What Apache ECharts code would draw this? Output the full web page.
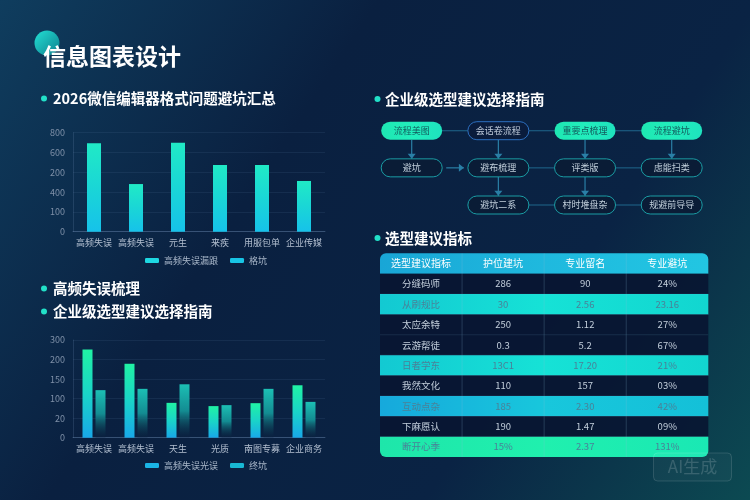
<!DOCTYPE html>
<html><head><meta charset="utf-8">
<script src="https://cdn.jsdelivr.net/npm/echarts@6/dist/echarts.min.js"></script>
<style>html,body{margin:0;padding:0;background:#0a1c3c}#c{width:750px;height:500px}</style>
</head><body><div id="c"></div>
<script>
const FONT = '"Noto Sans CJK SC","Noto Sans",sans-serif';

// ---- chart 1 data ----
const bar1Categories = ['高频失误', '高频失误', '元生', '来疾', '用服包单', '企业传媒'];
const bar1Values = [714, 385, 719, 539, 539, 410];
const bar1Values2 = [];
const bar1YLabels = ['0', '100', '400', '200', '600', '800'];
const bar1Names = ['高频失误漏跟', '格坑'];

// ---- chart 2 data ----
const bar2Categories = ['高频失误', '高频失误', '天生', '光质', '南图专募', '企业商务'];
const bar2ValuesA = [271, 227, 107, 97, 106, 161];
const bar2ValuesB = [146, 150, 164, 100, 150, 110];
const bar2YLabels = ['0', '20', '100', '150', '200', '300'];
const bar2Names = ['高频失误光误', '终坑'];

// ---- flow data ----
const flowNames = ['流程美图', '会话卷流程', '重要点梳理', '流程避坑', '避坑', '避布梳理', '评类版', '虑能扫类', '避坑二系', '村时堆盘杂', '规避前导导'];
const flowCols = [0, 1, 2, 3, 0, 1, 2, 3, 1, 2, 3];
const flowRows = [0, 0, 0, 0, 1, 1, 1, 1, 2, 2, 2];
const flowTypes = ['fill', 'blue', 'fill', 'fill', 'line', 'line', 'line', 'line', 'line', 'line', 'line'];
const flowEdgeFrom = [0, 1, 2, 0, 1, 2, 3, 4, 5, 6, 5, 6, 8, 9];
const flowEdgeTo = [1, 2, 3, 4, 5, 6, 7, 5, 6, 7, 8, 9, 9, 10];
const flowEdgeArrow = [0, 0, 0, 1, 1, 1, 1, 1, 0, 0, 1, 1, 0, 0];

// ---- table data ----
const tableHeader = ['选型建议指标', '护位建坑', '专业留名', '专业避坑'];
const tableRowNames = ['分缝码师', '从刷规比', '太应余特', '云游帮徒', '日者学东', '我然文化', '互动点杂', '下麻愿认', '断开心季'];
const tableCol1 = ['286', '30', '250', '0.3', '13C1', '110', '185', '190', '15%'];
const tableCol2 = ['90', '2.56', '1.12', '5.2', '17.20', '157', '2.30', '1.47', '2.37'];
const tableCol3 = ['24%', '23.16', '27%', '67%', '21%', '03%', '42%', '09%', '131%'];
const tableRowKinds = ['dark', 'cyan', 'dark', 'dark', 'cyan', 'dark', 'blue', 'dark', 'green'];

const tableCells = [tableHeader].concat(tableRowNames.map((n, i) => [n, tableCol1[i], tableCol2[i], tableCol3[i]]));

const chart = echarts.init(document.getElementById('c'), null, { renderer: 'canvas' });

function lg(stops, x2, y2) {
  return new echarts.graphic.LinearGradient(0, 0, x2, y2, stops.map((c, i) => ({ offset: i / (stops.length - 1), color: c })));
}

const rowFill = {
  header: lg(['#19a6d6', '#1fb9de', '#22c6e2'], 1, 0),
  dark: 'rgba(9,22,50,0.92)',
  cyan: lg(['#13c9d2', '#16e2d6', '#12d6d0'], 1, 0),
  blue: lg(['#16a9dc', '#18c7dc', '#14c0d8'], 1, 0),
  green: lg(['#1ee6aa', '#20f0ae', '#1ae8b4'], 1, 0)
};

const axisLabelStyle = { color: '#7f90a8', fontSize: 9, fontFamily: FONT };
const catLabelStyle = { color: '#b3bfd0', fontSize: 9, fontFamily: FONT, margin: 6, interval: 0 };
const faint = 'rgba(120,150,190,0.35)';

const option = {
  backgroundColor: new echarts.graphic.LinearGradient(0, 0, 1, 1, [
    { offset: 0, color: '#0f3d5e' },
    { offset: 0.35, color: '#0a2040' },
    { offset: 0.7, color: '#0a2344' },
    { offset: 1, color: '#0c4a52' }
  ]),
  textStyle: { fontFamily: FONT },
  animation: false,
  graphic: [
    { type: 'circle', shape: { cx: 47, cy: 43, r: 12.5 }, style: { fill: lg(['#22e0d4', '#0e7f8e'], 1, 1) } },
    { type: 'text', x: 43, y: 56, style: { text: '信息图表设计', fill: '#ffffff', font: 'bold 23px ' + FONT, verticalAlign: 'middle' } },
    { type: 'circle', shape: { cx: 44, cy: 98.5, r: 3 }, style: { fill: '#22e0c8' } },
    { type: 'text', x: 53, y: 98.5, style: { text: '2026微信编辑器格式问题避坑汇总', fill: '#ffffff', font: 'bold 14.5px ' + FONT, verticalAlign: 'middle' } },
    { type: 'circle', shape: { cx: 44, cy: 288.5, r: 3 }, style: { fill: '#22e0c8' } },
    { type: 'text', x: 53, y: 288.5, style: { text: '高频失误梳理', fill: '#ffffff', font: 'bold 14.5px ' + FONT, verticalAlign: 'middle' } },
    { type: 'circle', shape: { cx: 44, cy: 311.5, r: 3 }, style: { fill: '#22e0c8' } },
    { type: 'text', x: 53, y: 311.5, style: { text: '企业级选型建议选择指南', fill: '#ffffff', font: 'bold 14.5px ' + FONT, verticalAlign: 'middle' } },
    { type: 'circle', shape: { cx: 377.5, cy: 99, r: 3 }, style: { fill: '#22e0c8' } },
    { type: 'text', x: 385, y: 99, style: { text: '企业级选型建议选择指南', fill: '#ffffff', font: 'bold 14.5px ' + FONT, verticalAlign: 'middle' } },
    { type: 'circle', shape: { cx: 377.5, cy: 238, r: 3 }, style: { fill: '#22e0c8' } },
    { type: 'text', x: 385, y: 238, style: { text: '选型建议指标', fill: '#ffffff', font: 'bold 14.5px ' + FONT, verticalAlign: 'middle' } },
    { type: 'rect', shape: { x: 653.5, y: 453, width: 78, height: 28, r: 4 }, style: { fill: 'rgba(255,255,255,0.03)', stroke: 'rgba(255,255,255,0.13)', lineWidth: 1 }, z: 100 },
    { type: 'text', x: 692.5, y: 467, style: { text: 'AI生成', fill: 'rgba(255,255,255,0.16)', font: '17px ' + FONT, align: 'center', verticalAlign: 'middle' }, z: 100 }
  ],
  legend: [
    {
      left: 140, top: 251, itemWidth: 14, itemHeight: 5, itemGap: 12, icon: 'roundRect',
      textStyle: { color: '#aab8ca', fontSize: 9, fontFamily: FONT },
      data: [{ name: bar1Names[0], itemStyle: { color: '#1ed8e2' } }, { name: bar1Names[1], itemStyle: { color: '#18c4e4' } }]
    },
    {
      left: 140, top: 456, itemWidth: 14, itemHeight: 5, itemGap: 12, icon: 'roundRect',
      textStyle: { color: '#aab8ca', fontSize: 9, fontFamily: FONT },
      data: [{ name: bar2Names[0], itemStyle: { color: '#1ab4e6' } }, { name: bar2Names[1], itemStyle: { color: '#18b8d4' } }]
    }
  ],
  grid: [
    { left: 73, width: 252, top: 132.7, height: 99 },
    { left: 73, width: 252, top: 340, height: 97.7 },
    { left: 411.7, width: 260, top: 130.7, height: 74.3 },
    { left: 380, width: 328.3, top: 253.3, height: 203.7 }
  ],
  xAxis: [
    { gridIndex: 0, type: 'category', data: bar1Categories, axisTick: { show: false }, axisLine: { lineStyle: { color: faint } }, axisLabel: catLabelStyle },
    { gridIndex: 1, type: 'category', data: bar2Categories, axisTick: { show: false }, axisLine: { lineStyle: { color: faint } }, axisLabel: catLabelStyle },
    { gridIndex: 2, type: 'value', min: 0, max: 3, show: false },
    { gridIndex: 3, type: 'value', min: -0.5, max: 3.5, show: false }
  ],
  yAxis: [
    {
      gridIndex: 0, type: 'value', min: 0, max: 800, interval: 160,
      axisLine: { show: true, lineStyle: { color: 'rgba(120,150,190,0.2)' } },
      splitLine: { lineStyle: { color: 'rgba(110,140,180,0.12)' } },
      axisLabel: Object.assign({ formatter: (v, i) => bar1YLabels[i] }, axisLabelStyle)
    },
    {
      gridIndex: 1, type: 'value', min: 0, max: 300, interval: 60,
      axisLine: { show: true, lineStyle: { color: 'rgba(120,150,190,0.2)' } },
      splitLine: { lineStyle: { color: 'rgba(110,140,180,0.12)' } },
      axisLabel: Object.assign({ formatter: (v, i) => bar2YLabels[i] }, axisLabelStyle)
    },
    { gridIndex: 2, type: 'value', min: 0, max: 2, inverse: true, show: false },
    { gridIndex: 3, type: 'value', min: -0.5, max: 9.5, inverse: true, show: false }
  ],
  series: [
    {
      name: bar1Names[0], type: 'bar', xAxisIndex: 0, yAxisIndex: 0, data: bar1Values, barWidth: 14, barGap: '-100%',
      itemStyle: { color: lg(['#20eac6', '#1ad6d6', '#16c2ea'], 0, 1) }
    },
    { name: bar1Names[1], type: 'bar', xAxisIndex: 0, yAxisIndex: 0, data: bar1Values2, barWidth: 14, itemStyle: { color: '#18c4e4' } },
    {
      name: bar2Names[0], type: 'bar', xAxisIndex: 1, yAxisIndex: 1, data: bar2ValuesA, barWidth: 10, barGap: '30%',
      itemStyle: { color: lg(['#20f2a4', '#1ad4c8', '#18a8e8'], 0, 1) }
    },
    {
      name: bar2Names[1], type: 'bar', xAxisIndex: 1, yAxisIndex: 1, data: bar2ValuesB, barWidth: 10,
      itemStyle: { color: lg(['#1cbfb4', '#138c92', 'rgba(10,30,60,0.3)'], 0, 1) }
    },
    // flow edges
    {
      type: 'custom', xAxisIndex: 2, yAxisIndex: 2, z: 3, silent: true,
      data: flowEdgeFrom.map((f, i) => [flowCols[f], flowRows[f], flowCols[flowEdgeTo[i]], flowRows[flowEdgeTo[i]], flowEdgeArrow[i]]),
      encode: { x: [0, 2], y: [1, 3] },
      renderItem(params, api) {
        const a = api.coord([api.value(0), api.value(1)]);
        const b = api.coord([api.value(2), api.value(3)]);
        const arrow = api.value(4);
        const hw = 30.5, hh = 9.2;
        let x1, y1, x2, y2, dx = 0, dy = 0;
        if (Math.abs(a[1] - b[1]) < 1) {
          dx = b[0] > a[0] ? 1 : -1;
          x1 = a[0] + dx * hw; x2 = b[0] - dx * hw; y1 = y2 = a[1];
          if (arrow) { x1 += dx * 4; x2 -= dx * 4; }
        } else {
          dy = b[1] > a[1] ? 1 : -1;
          y1 = a[1] + dy * hh; y2 = b[1] - dy * hh; x1 = x2 = a[0];
        }
        const col = arrow ? '#2a7fa6' : '#1b5c80';
        const children = [{ type: 'line', shape: { x1, y1, x2, y2 }, style: { stroke: col, lineWidth: 1.2 } }];
        if (arrow) {
          const s = 4, l = 5;
          let pts;
          if (dy) pts = [[x2, y2], [x2 - s, y2 - dy * l], [x2 + s, y2 - dy * l]];
          else pts = [[x2, y2], [x2 - dx * l, y2 - s], [x2 - dx * l, y2 + s]];
          children.push({ type: 'polygon', shape: { points: pts }, style: { fill: col } });
        }
        return { type: 'group', children };
      }
    },
    // flow nodes
    {
      type: 'custom', xAxisIndex: 2, yAxisIndex: 2, z: 4, silent: true,
      data: flowNames.map((n, i) => [flowCols[i], flowRows[i]]),
      renderItem(params, api) {
        const p = api.coord([api.value(0), api.value(1)]);
        const t = flowTypes[params.dataIndex];
        const w = 61, h = 18;
        let fill, stroke, txt;
        if (t === 'fill') { fill = lg(['#1ee6b2', '#22eebc', '#1ee2be'], 1, 0); stroke = null; txt = '#13595c'; }
        else if (t === 'blue') { fill = '#0a1c3c'; stroke = '#2d6fc0'; txt = '#c2cede'; }
        else { fill = '#0a1c36'; stroke = '#1a9ca4'; txt = '#c2d0dc'; }
        return {
          type: 'group', children: [
            { type: 'rect', shape: { x: p[0] - w / 2, y: p[1] - h / 2, width: w, height: h, r: 9 }, style: { fill, stroke, lineWidth: 1 } },
            { type: 'text', x: p[0], y: p[1], style: { text: flowNames[params.dataIndex], fill: txt, font: '9px ' + FONT, align: 'center', verticalAlign: 'middle' } }
          ]
        };
      }
    },
    // table rows background
    {
      type: 'custom', xAxisIndex: 3, yAxisIndex: 3, z: 3, silent: true,
      data: tableCells.map((r, i) => [0, i]),
      renderItem(params, api) {
        const r = api.value(1);
        const tl = api.coord([-0.5, r - 0.5]);
        const br = api.coord([3.5, r + 0.5]);
        const kind = r === 0 ? 'header' : tableRowKinds[r - 1];
        let rad = 0;
        if (r === 0) rad = [6, 6, 0, 0];
        else if (r === tableCells.length - 1) rad = [0, 0, 6, 6];
        return {
          type: 'rect',
          shape: { x: tl[0], y: tl[1], width: br[0] - tl[0], height: br[1] - tl[1], r: rad },
          style: { fill: rowFill[kind] }
        };
      }
    },
    // table cells
    {
      type: 'custom', xAxisIndex: 3, yAxisIndex: 3, z: 4, silent: true,
      data: tableCells.flatMap((row, r) => row.map((v, c) => [c, r])),
      renderItem(params, api) {
        const c = api.value(0), r = api.value(1);
        const p = api.coord([c, r]);
        const sz = api.size([1, 1]);
        const kind = r === 0 ? 'header' : tableRowKinds[r - 1];
        let col, font;
        if (r === 0) { col = '#ffffff'; font = '10px ' + FONT; }
        else if (kind === 'dark') { col = '#c3cfdc'; font = '9.5px ' + FONT; }
        else { col = '#4a8198'; font = '9.5px ' + FONT; }
        const children = [
          { type: 'text', x: p[0], y: p[1], style: { text: tableCells[r][c], fill: col, font, align: 'center', verticalAlign: 'middle' } }
        ];
        if (c > 0) children.push({ type: 'line', shape: { x1: p[0] - sz[0] / 2, y1: p[1] - sz[1] / 2, x2: p[0] - sz[0] / 2, y2: p[1] + sz[1] / 2 }, style: { stroke: 'rgba(140,190,220,0.22)', lineWidth: 1 } });
        if (r > 0 && r < tableCells.length - 1) children.push({ type: 'line', shape: { x1: p[0] - sz[0] / 2, y1: p[1] + sz[1] / 2, x2: p[0] + sz[0] / 2, y2: p[1] + sz[1] / 2 }, style: { stroke: 'rgba(140,190,220,0.12)', lineWidth: 1 } });
        return { type: 'group', children };
      }
    }
  ]
};
chart.setOption(option);
</script>
</body></html>
